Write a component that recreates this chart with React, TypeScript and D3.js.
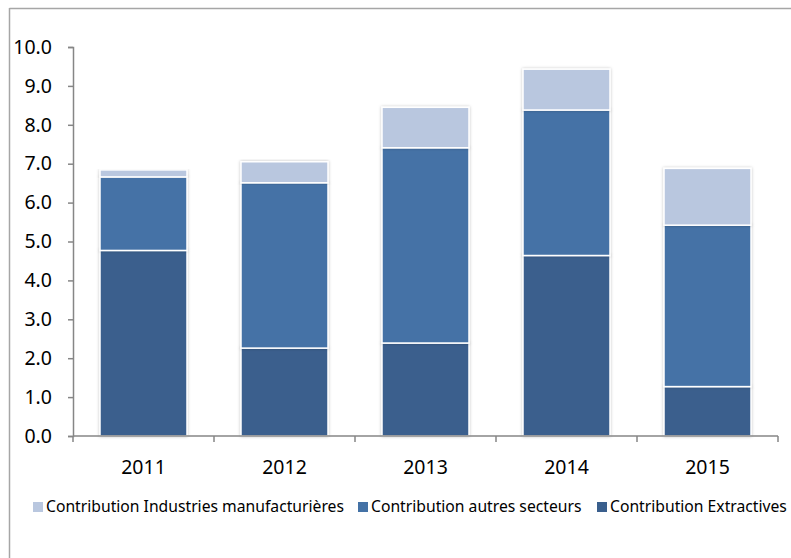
import React, { useEffect, useRef } from 'react'
import * as d3 from 'd3'

const years = ['2011', '2012', '2013', '2014', '2015']
const extractives = [4.77, 2.26, 2.39, 4.64, 1.27]
const autres = [1.89, 4.25, 5.02, 3.74, 4.15]
const manuf = [0.18, 0.54, 1.04, 1.05, 1.46]
const yTicks = [0, 1, 2, 3, 4, 5, 6, 7, 8, 9, 10]

const seriesNames = ['Contribution Extractives', 'Contribution autres secteurs', 'Contribution Industries manufacturières']
const colors = ['#3A5F8D', '#4472A6', '#B9C7DF']

const W = 791
const H = 558

export default function App() {
  const svgRef = useRef<SVGSVGElement>(null)

  useEffect(() => {
    const svgEl = d3.select(svgRef.current)
    svgEl.selectAll('*').remove()

    const left = 73
    const right = 778
    const top = 47
    const bottom = 436
    const font = "'Noto Sans', 'Liberation Sans', sans-serif"

    // frame (only top and left edges visible)
    svgEl.append('line').attr('x1', 9.5).attr('y1', 8.5).attr('x2', W).attr('y2', 8.5).attr('stroke', '#a6a6a6').attr('stroke-width', 1.5)
    svgEl.append('line').attr('x1', 9.5).attr('y1', 8).attr('x2', 9.5).attr('y2', H).attr('stroke', '#a6a6a6').attr('stroke-width', 1.5)

    const defs = svgEl.append('defs')
    const filter = defs.append('filter').attr('id', 'shadow').attr('x', '-10%').attr('y', '-10%').attr('width', '120%').attr('height', '120%')
    filter.append('feDropShadow').attr('dx', 0).attr('dy', 0).attr('stdDeviation', 1.5).attr('flood-color', '#000').attr('flood-opacity', 0.25)

    const x = d3.scaleBand().domain(years).range([left, right]).paddingInner(0.383).paddingOuter(0.1915)
    const y = d3.scaleLinear().domain([0, 10]).range([bottom, top])

    const table = years.map((yr, i) => ({ year: yr, ext: extractives[i], aut: autres[i], man: manuf[i] }))
    const stack = d3.stack<any>().keys(['ext', 'aut', 'man'])(table)

    const barsG = svgEl.append('g')
    stack.forEach((layer, li) => {
      barsG
        .append('g')
        .selectAll('rect')
        .data(layer)
        .enter()
        .append('rect')
        .attr('x', (d: any) => x(d.data.year)!)
        .attr('width', x.bandwidth())
        .attr('y', (d) => y(d[1]))
        .attr('height', (d) => y(d[0]) - y(d[1]))
        .attr('fill', colors[li])
        .attr('stroke', '#ffffff')
        .attr('stroke-width', 1.5)
        .attr('filter', 'url(#shadow)')
    })

    // y axis
    const yAxis = svgEl
      .append('g')
      .attr('transform', `translate(${left},0)`)
      .call(d3.axisLeft(y).tickValues(yTicks).tickFormat((d) => d3.format('.1f')(d as number)).tickSize(5).tickPadding(16))
    yAxis.select('.domain').attr('stroke', '#868686').attr('stroke-width', 1.5)
    yAxis.selectAll('line').attr('stroke', '#868686').attr('stroke-width', 1.5)
    yAxis.selectAll('text').attr('fill', '#000').attr('font-size', 19.5).attr('font-family', font)

    // x axis
    const xAxisG = svgEl.append('g')
    xAxisG.append('line').attr('x1', left).attr('x2', right).attr('y1', bottom).attr('y2', bottom).attr('stroke', '#868686').attr('stroke-width', 1.5)
    const bounds = d3.range(years.length + 1).map((i) => left + i * x.step())
    xAxisG
      .selectAll('line.tk')
      .data(bounds)
      .enter()
      .append('line')
      .attr('class', 'tk')
      .attr('x1', (d) => d)
      .attr('x2', (d) => d)
      .attr('y1', bottom)
      .attr('y2', bottom + 6)
      .attr('stroke', '#868686')
      .attr('stroke-width', 1.5)
    xAxisG
      .selectAll('text')
      .data(years)
      .enter()
      .append('text')
      .attr('x', (d) => x(d)! + x.bandwidth() / 2)
      .attr('y', 467)
      .attr('dy', '0.35em')
      .attr('text-anchor', 'middle')
      .attr('font-size', 19.5)
      .attr('font-family', font)
      .attr('fill', '#000')
      .text((d) => d)

    // legend
    const legendItems = [
      { name: seriesNames[2], color: colors[2], x: 33 },
      { name: seriesNames[1], color: colors[1], x: 358 },
      { name: seriesNames[0], color: colors[0], x: 597 },
    ]
    const lg = svgEl.append('g')
    legendItems.forEach((it) => {
      lg.append('rect').attr('x', it.x).attr('y', 502).attr('width', 10).attr('height', 10).attr('fill', it.color)
      lg.append('text')
        .attr('x', it.x + 13)
        .attr('y', 507)
        .attr('dy', '0.35em')
        .attr('font-size', 15.7)
        .attr('font-family', font)
        .attr('fill', '#000')
        .text(it.name)
    })
  }, [])

  return <svg ref={svgRef} width={W} height={H} style={{ position: 'absolute', left: 0, top: 0, background: '#fff' }} />
}
